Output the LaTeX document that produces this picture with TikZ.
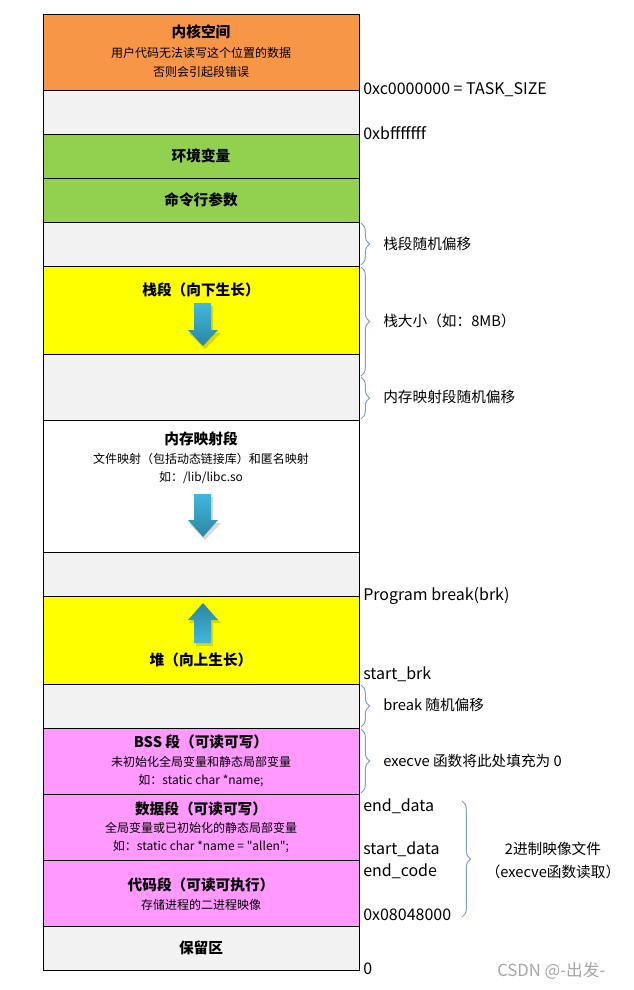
\documentclass[tikz,border=0pt]{standalone}
\usepackage{fontspec}
\setmainfont{Noto Sans CJK SC}[Ligatures=TeXOff]
\usetikzlibrary{decorations.pathreplacing}
\definecolor{kernelorange}{HTML}{F79646}
\definecolor{gapgray}{HTML}{F2F2F2}
\definecolor{envgreen}{HTML}{92D050}
\definecolor{growyellow}{HTML}{FFFF00}
\definecolor{segpink}{HTML}{FF99FF}
\definecolor{braceblue}{HTML}{7F9FCB}
\definecolor{arrowlight}{HTML}{40B8DC}
\definecolor{arrowdark}{HTML}{2C86A4}
\definecolor{markgray}{HTML}{A6A6A6}

\begin{document}
\begin{tikzpicture}[x=0.75pt,y=-0.75pt,
  every node/.style={inner sep=0pt},
  seg/.style={draw=black,line width=0.75pt},
  title/.style={font=\fontsize{11}{13}\selectfont\bfseries},
  note/.style={font=\fontsize{9}{11}\selectfont},
  addr/.style={anchor=west,font=\fontsize{12}{14}\selectfont},
  sidenote/.style={anchor=west,font=\fontsize{11}{13}\selectfont},
  side/.style={decorate,decoration={brace,amplitude=6.5pt},draw=braceblue,line width=0.75pt},
  growdown/.style={top color=arrowlight,bottom color=arrowdark},
  growup/.style={top color=arrowdark,bottom color=arrowlight}]
\useasboundingbox (0,0) rectangle (634,990);
% bands of the address space
\draw [seg,fill=kernelorange] (43,14) rectangle (359,90);
\draw [seg,fill=gapgray] (43,90) rectangle (359,134);
\draw [seg,fill=envgreen] (43,134) rectangle (359,178);
\draw [seg,fill=envgreen] (43,178) rectangle (359,222);
\draw [seg,fill=gapgray] (43,222) rectangle (359,266);
\draw [seg,fill=growyellow] (43,266) rectangle (359,354);
\draw [seg,fill=gapgray] (43,354) rectangle (359,420);
\draw [seg,fill=white] (43,420) rectangle (359,552);
\draw [seg,fill=gapgray] (43,552) rectangle (359,596);
\draw [seg,fill=growyellow] (43,596) rectangle (359,684);
\draw [seg,fill=gapgray] (43,684) rectangle (359,728);
\draw [seg,fill=segpink] (43,728) rectangle (359,794);
\draw [seg,fill=segpink] (43,794) rectangle (359,860);
\draw [seg,fill=segpink] (43,860) rectangle (359,926);
\draw [seg,fill=gapgray] (43,926) rectangle (359,970);
% texts in the bands
\node [title] (kernel) at (201,32) {内核空间};
\node [note] (kernelnote) at (201,53) {用户代码无法读写这个位置的数据};
\node [note] (kernelfault) at (201,72) {否则会引起段错误};
\node [title] (env) at (201,156) {环境变量};
\node [title] (args) at (201,200) {命令行参数};
\node [title] (stack) at (201,290) {栈段（向下生长）};
\node [title] (mmap) at (201,439) {内存映射段};
\node [note] (mmapnote) at (201,459) {文件映射（包括动态链接库）和匿名映射};
\node [note] (mmapeg) at (201,478) {如：/lib/libc.so};
\node [title] (heap) at (201,660) {堆（向上生长）};
\node [title] (bss) at (201,742) {BSS 段（可读可写）};
\node [note] (bssnote) at (201,762) {未初始化全局变量和静态局部变量};
\node [note] (bsseg) at (201,781) {如：static char *name;};
\node [title] (data) at (201,809) {数据段（可读可写）};
\node [note] (datanote) at (201,828) {全局变量或已初始化的静态局部变量};
\node [note] (dataeg) at (201,847) {如：static char *name = "allen";};
\node [title] (code) at (201,885) {代码段（可读可执行）};
\node [note] (codenote) at (201,905) {存储进程的二进程映像};
\node [title] (reserved) at (201,948) {保留区};
% growth arrows
\fill [black,opacity=0.15] (196,306) -- (213,306) -- (213,333) -- (221,333) -- (205,349) -- (189,333) -- (196,333) -- cycle;
\shade [growdown] (194,303) -- (211,303) -- (211,330) -- (218,330) -- (203,346) -- (188,330) -- (194,330) -- cycle;
\fill [black,opacity=0.15] (196,497) -- (213,497) -- (213,523) -- (221,523) -- (205,540) -- (189,523) -- (196,523) -- cycle;
\shade [growdown] (194,494) -- (211,494) -- (211,520) -- (218,520) -- (203,537) -- (188,520) -- (194,520) -- cycle;
\fill [black,opacity=0.15] (205,606) -- (221,623) -- (213,623) -- (213,646) -- (196,646) -- (196,623) -- (189,623) -- cycle;
\shade [growup] (203,603) -- (218,620) -- (211,620) -- (211,643) -- (194,643) -- (194,620) -- (188,620) -- cycle;
% addresses on the right
\node [addr] (tasksize) at (363,90) {0xc0000000 = TASK\_SIZE};
\node [addr] (stacktop) at (363,133) {0xbfffffff};
\node [addr] (brk) at (363,596) {Program break(brk)};
\node [addr] (startbrk) at (363,674) {start\_brk};
\node [addr] (enddata) at (363,806) {end\_data};
\node [addr] (startdata) at (363,849) {start\_data};
\node [addr] (endcode) at (363,871) {end\_code};
\node [addr] (textstart) at (363,915) {0x08048000};
\node [addr] (zero) at (363,969) {0};
% braces and their notes
\draw [side] (361,223) -- (361,265);
\node [sidenote] (stackrand) at (383,244) {栈段随机偏移};
\draw [side] (361,267) -- (361,376);
\node [sidenote] (stacksize) at (383,321) {栈大小（如：8MB）};
\draw [side] (361,377) -- (361,419);
\node [sidenote] (mmaprand) at (383,397) {内存映射段随机偏移};
\draw [side] (361,685) -- (361,727);
\node [sidenote] (brkrand) at (383,705) {break 随机偏移};
\draw [side] (361,729) -- (361,793);
\node [sidenote] (bsszero) at (383,761) {execve 函数将此处填充为 0};
\draw [side] (462,801) -- (462,917);
\node [font=\fontsize{11}{13}\selectfont] (image) at (553,849) {2进制映像文件};
\node [font=\fontsize{11}{13}\selectfont] (imageread) at (553,872) {（execve函数读取）};
% watermark
\node [anchor=west,font=\fontsize{12.5}{14}\selectfont,text=markgray] (mark) at (497,971) {CSDN @-出发-};
\end{tikzpicture}
\end{document}
